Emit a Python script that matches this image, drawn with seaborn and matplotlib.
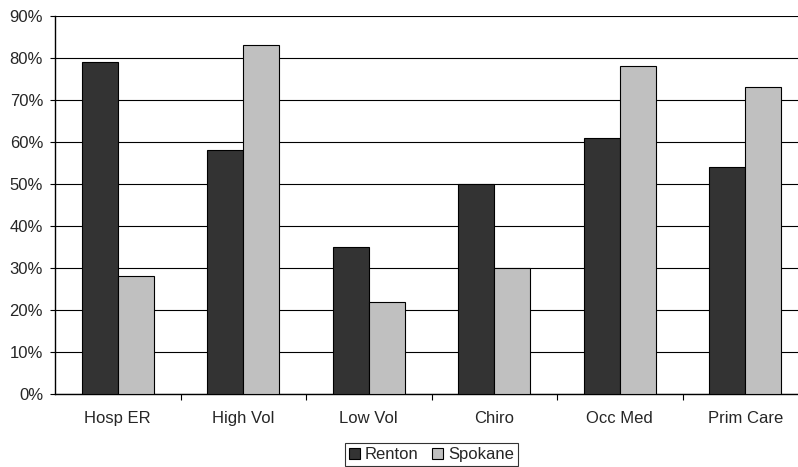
import matplotlib
matplotlib.use("Agg")
import matplotlib.pyplot as plt
import seaborn as sns
import pandas as pd
import numpy as np
from matplotlib.ticker import PercentFormatter, FixedLocator

# values (percent)
categories = ['Hosp ER', 'High Vol', 'Low Vol', 'Chiro', 'Occ Med', 'Prim Care']
renton = [79, 58, 35, 50, 61, 54]
spokane = [28, 83, 22, 30, 78, 73]
series = ['Renton', 'Spokane']
colors = ['#333333', '#c0c0c0']

df = pd.DataFrame({
    'category': categories * 2,
    'site': ['Renton'] * len(categories) + ['Spokane'] * len(categories),
    'value': renton + spokane,
})

sns.set_style('white')
plt.rcParams['font.family'] = ['Liberation Sans', 'DejaVu Sans']
plt.rcParams['font.size'] = 12

fig = plt.figure(figsize=(7.98, 4.67), dpi=100)
# plot area runs slightly past the right edge, like the original crop
ax = fig.add_axes([55 / 798, 73 / 467, 753 / 798, 378.3 / 467])

sns.barplot(data=df, x='category', y='value', hue='site', order=categories,
            hue_order=series, palette=colors, width=0.574, gap=0,
            edgecolor='black', linewidth=0.8, ax=ax, legend=True, zorder=3)

ax.set_ylim(0, 90)
ax.set_xlim(-0.5, len(categories) - 0.5)
ax.set_yticks(np.arange(0, 91, 10))
ax.yaxis.set_major_formatter(PercentFormatter(decimals=0))
ax.grid(axis='y', color='black', linewidth=0.8, zorder=0)
ax.set_axisbelow(True)
ax.set_xlabel('')
ax.set_ylabel('')

for side in ['top', 'right']:
    ax.spines[side].set_visible(False)
for side in ['left', 'bottom']:
    ax.spines[side].set_color('black')
    ax.spines[side].set_linewidth(1.0)

ax.tick_params(axis='y', which='major', length=3.6, width=0.8, color='black',
               pad=5, labelsize=12, left=True)
ax.tick_params(axis='x', which='major', length=0, pad=12, labelsize=12)
# category separator ticks
ax.xaxis.set_minor_locator(FixedLocator(np.arange(0.5, len(categories) - 1, 1.0)))
ax.tick_params(axis='x', which='minor', length=4.5, width=0.8, color='black',
               direction='out', bottom=True)

ax.legend_.remove()
handles = [plt.Rectangle((0, 0), 1, 1, facecolor=c, edgecolor='black', linewidth=0.8)
           for c in colors]
leg = fig.legend(handles, series, loc='upper center',
                 bbox_to_anchor=(431.5 / 798, 1 - 443 / 467), ncol=2,
                 frameon=True, fancybox=False, edgecolor='black',
                 handlelength=0.65, handleheight=0.65, handletextpad=0.3,
                 columnspacing=0.8, borderpad=0.25, borderaxespad=0,
                 fontsize=12)
leg.get_frame().set_linewidth(0.8)

fig.savefig('out.png', dpi=100)
